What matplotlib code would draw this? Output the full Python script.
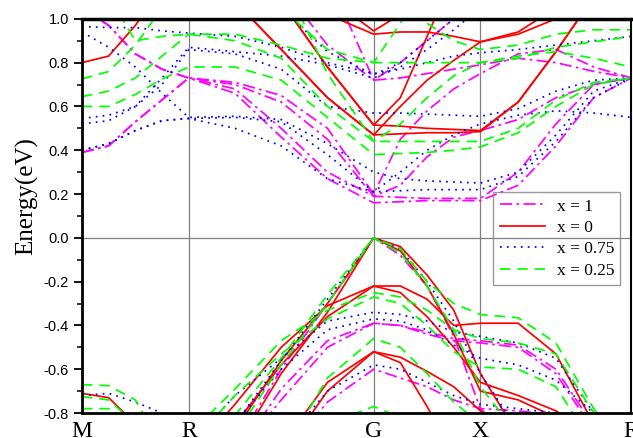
import numpy as np
import matplotlib
matplotlib.use("Agg")
import matplotlib.pyplot as plt

# high-symmetry path M-R-G-X-R (positions in 2pi/a units)
k_labels = ["M", "R", "G", "X", "R"]
k_nodes = [0.0, 0.5, 1.366, 1.866, 2.573]

# every band is sampled at 17 points: node, 3 inner points, node, ...
# energies in eV, read from the figure (values beyond the window just run off)
x1_cond = [
    [0.39, 0.42, 0.53, 0.63, 0.73, 0.71, 0.65, 0.50, 0.20, 0.45, 0.58, 0.68, 0.75, 0.84, 0.86, 0.78, 0.73],
    [1.05, 0.97, 0.84, 0.77, 0.73, 0.66, 0.46, 0.27, 0.16, 0.165, 0.17, 0.17, 0.17, 0.24, 0.42, 0.64, 0.73],
    [0.39, 0.42, 0.53, 0.63, 0.73, 0.70, 0.62, 0.45, 0.19, 0.24, 0.37, 0.46, 0.49, 0.54, 0.64, 0.70, 0.73],
    [1.05, 0.97, 0.84, 0.77, 0.73, 0.68, 0.50, 0.30, 0.19, 0.185, 0.18, 0.18, 0.18, 0.30, 0.52, 0.70, 0.73],
    [1.20, 1.20, 1.20, 1.20, 1.20, 1.20, 1.15, 0.88, 0.72, 0.73, 0.75, 0.77, 0.79, 0.82, 0.80, 0.76, 0.73],
    [1.20, 1.20, 1.20, 1.20, 1.20, 1.20, 1.20, 1.20, 0.72, 0.80, 0.90, 1.00, 1.10, 1.20, 1.20, 1.20, 1.20],
]
x1_val = [
    [-1.0, -1.0, -1.0, -1.0, -1.0, -0.95, -0.60, -0.30, 0.00, -0.08, -0.22, -0.45, -0.78, -0.95, -1.0, -1.0, -1.0],
    [-1.0, -1.0, -1.0, -1.0, -1.0, -1.0, -0.69, -0.47, -0.39, -0.40, -0.44, -0.47, -0.48, -0.50, -0.62, -0.88, -1.0],
    [-1.0, -1.0, -1.0, -1.0, -1.0, -1.0, -0.74, -0.50, -0.39, -0.40, -0.43, -0.46, -0.47, -0.49, -0.60, -0.86, -1.0],
    [-1.0, -1.0, -1.0, -1.0, -1.0, -1.0, -1.0, -0.75, -0.60, -0.64, -0.68, -0.74, -0.78, -0.79, -0.81, -1.0, -1.0],
]

x0_cond = [
    [0.80, 0.83, 0.97, 1.15, 1.30, 1.30, 1.30, 1.30, 1.30, 1.30, 1.30, 1.30, 1.30, 1.30, 1.30, 1.30, 1.30],
    [1.30, 1.30, 1.30, 1.30, 1.30, 1.08, 0.86, 0.64, 0.47, 0.475, 0.48, 0.48, 0.485, 0.62, 0.85, 1.10, 1.30],
    [1.30, 1.30, 1.30, 1.30, 1.30, 1.30, 1.08, 0.78, 0.515, 0.51, 0.50, 0.495, 0.49, 0.62, 0.85, 1.10, 1.30],
    [1.30, 1.30, 1.30, 1.30, 1.30, 1.30, 1.08, 0.78, 0.515, 0.64, 0.92, 1.20, 1.30, 1.30, 1.30, 1.30, 1.30],
    [1.30, 1.30, 1.30, 1.30, 1.30, 1.08, 0.86, 0.64, 0.47, 0.60, 0.72, 0.81, 0.895, 0.94, 1.05, 1.20, 1.30],
    [1.30, 1.30, 1.30, 1.30, 1.30, 1.30, 1.30, 1.02, 0.93, 0.94, 0.94, 0.92, 0.895, 0.93, 1.00, 1.20, 1.30],
    [1.30, 1.30, 1.30, 1.30, 1.30, 1.30, 1.30, 1.10, 0.945, 1.02, 1.20, 1.30, 1.30, 1.30, 1.30, 1.30, 1.30],
]
x0_val = [
    [-0.71, -0.73, -0.85, -1.0, -1.0, -1.0, -1.0, -1.0, -1.0, -1.0, -1.0, -1.0, -1.0, -1.0, -1.0, -1.0, -1.0],
    [-1.0, -1.0, -1.0, -1.0, -1.0, -0.88, -0.56, -0.30, 0.00, -0.04, -0.17, -0.33, -0.62, -0.90, -1.0, -1.0, -1.0],
    [-1.0, -1.0, -1.0, -1.0, -1.0, -0.97, -0.62, -0.34, 0.00, -0.06, -0.22, -0.44, -0.70, -0.74, -0.82, -1.0, -1.0],
    [-1.0, -1.0, -1.0, -1.0, -1.0, -0.76, -0.50, -0.31, -0.22, -0.22, -0.28, -0.40, -0.39, -0.39, -0.53, -0.85, -1.0],
    [-1.0, -1.0, -1.0, -1.0, -1.0, -0.85, -0.58, -0.36, -0.22, -0.25, -0.36, -0.50, -0.66, -0.72, -0.79, -0.90, -1.0],
    [-1.0, -1.0, -1.0, -1.0, -1.0, -1.0, -0.95, -0.66, -0.52, -0.57, -0.77, -1.0, -1.0, -1.0, -1.0, -1.0, -1.0],
    [-1.0, -1.0, -1.0, -1.0, -1.0, -1.0, -1.0, -0.70, -0.52, -0.545, -0.61, -0.68, -0.79, -0.90, -1.0, -1.0, -1.0],
]

x075_cond = [
    [0.965, 0.96, 0.96, 0.945, 0.935, 0.92, 0.87, 0.80, 0.75, 0.77, 0.80, 0.83, 0.845, 0.86, 0.88, 0.90, 0.92],
    [0.94, 0.87, 0.78, 0.66, 0.55, 0.555, 0.54, 0.43, 0.30, 0.27, 0.26, 0.255, 0.25, 0.30, 0.47, 0.67, 0.73],
    [0.545, 0.56, 0.60, 0.70, 0.86, 0.84, 0.77, 0.60, 0.57, 0.57, 0.565, 0.56, 0.555, 0.59, 0.67, 0.72, 0.73],
    [0.52, 0.535, 0.60, 0.73, 0.87, 0.85, 0.83, 0.79, 0.73, 0.78, 0.86, 0.95, 1.05, 1.20, 1.20, 1.20, 1.20],
    [0.40, 0.43, 0.49, 0.535, 0.545, 0.55, 0.53, 0.38, 0.21, 0.215, 0.22, 0.22, 0.22, 0.28, 0.44, 0.64, 0.73],
    [0.40, 0.43, 0.49, 0.535, 0.545, 0.50, 0.42, 0.27, 0.21, 0.30, 0.40, 0.47, 0.52, 0.56, 0.58, 0.57, 0.55],
    [1.20, 1.20, 1.20, 1.20, 1.20, 1.20, 1.05, 0.85, 0.745, 0.80, 0.90, 1.00, 1.10, 1.20, 1.20, 1.20, 1.20],
]
x075_val = [
    [-0.72, -0.71, -0.75, -0.80, -1.0, -1.0, -1.0, -1.0, -1.0, -1.0, -1.0, -1.0, -1.0, -1.0, -1.0, -1.0, -1.0],
    [-1.0, -1.0, -1.0, -1.0, -1.0, -0.85, -0.56, -0.28, 0.00, -0.05, -0.20, -0.38, -0.62, -0.88, -1.0, -1.0, -1.0],
    [-1.0, -1.0, -1.0, -1.0, -0.95, -0.72, -0.55, -0.38, -0.34, -0.35, -0.38, -0.43, -0.45, -0.48, -0.55, -0.80, -0.85],
    [-1.0, -1.0, -1.0, -1.0, -1.0, -0.85, -0.60, -0.42, -0.37, -0.38, -0.42, -0.49, -0.55, -0.58, -0.65, -0.80, -1.0],
    [-1.0, -1.0, -1.0, -1.0, -1.0, -1.0, -0.95, -0.70, -0.58, -0.60, -0.66, -0.72, -0.76, -0.78, -0.80, -1.0, -1.0],
]

x025_cond = [
    [0.725, 0.76, 0.88, 1.05, 1.20, 1.20, 1.20, 1.20, 1.20, 1.20, 1.20, 1.20, 1.20, 1.20, 1.20, 1.20, 1.20],
    [0.645, 0.67, 0.73, 0.83, 0.93, 0.93, 0.88, 0.82, 0.80, 0.80, 0.80, 0.80, 0.80, 0.82, 0.87, 0.895, 0.92],
    [0.60, 0.60, 0.655, 0.725, 0.78, 0.78, 0.72, 0.55, 0.38, 0.385, 0.39, 0.40, 0.415, 0.48, 0.60, 0.70, 0.73],
    [1.20, 1.10, 0.90, 0.92, 0.93, 0.90, 0.82, 0.60, 0.44, 0.44, 0.44, 0.44, 0.44, 0.50, 0.63, 0.71, 0.73],
    [1.20, 1.20, 1.20, 1.20, 1.20, 1.20, 1.05, 0.86, 0.80, 0.98, 1.20, 1.20, 1.20, 1.20, 1.20, 1.20, 1.20],
    [1.20, 1.20, 1.20, 1.20, 1.20, 1.20, 1.20, 0.75, 0.44, 0.52, 0.64, 0.74, 0.80, 0.83, 0.85, 0.82, 0.78],
    [1.20, 1.20, 1.20, 1.20, 1.20, 1.20, 1.20, 1.20, 1.20, 1.10, 0.98, 0.90, 0.86, 0.88, 0.93, 0.95, 0.95],
]
x025_val = [
    [-0.67, -0.675, -0.74, -0.95, -1.0, -1.0, -1.0, -1.0, -1.0, -1.0, -1.0, -1.0, -1.0, -1.0, -1.0, -1.0, -1.0],
    [-0.725, -0.74, -0.85, -1.0, -1.0, -1.0, -1.0, -1.0, -1.0, -1.0, -1.0, -1.0, -1.0, -1.0, -1.0, -1.0, -1.0],
    [-0.78, -0.78, -0.86, -1.0, -1.0, -1.0, -1.0, -1.0, -1.0, -1.0, -1.0, -1.0, -1.0, -1.0, -1.0, -1.0, -1.0],
    [-1.0, -1.0, -1.0, -1.0, -1.0, -0.81, -0.55, -0.26, 0.00, -0.07, -0.22, -0.42, -0.68, -0.90, -1.0, -1.0, -1.0],
    [-1.0, -1.0, -1.0, -1.0, -1.0, -0.90, -0.58, -0.30, 0.00, -0.05, -0.20, -0.30, -0.35, -0.365, -0.48, -0.78, -1.0],
    [-1.0, -1.0, -1.0, -1.0, -0.90, -0.69, -0.47, -0.33, -0.25, -0.27, -0.33, -0.42, -0.46, -0.48, -0.53, -0.80, -1.0],
    [-1.0, -1.0, -1.0, -1.0, -0.95, -0.72, -0.53, -0.37, -0.27, -0.30, -0.40, -0.52, -0.59, -0.60, -0.68, -0.95, -1.0],
    [-1.0, -1.0, -1.0, -1.0, -1.0, -1.0, -1.0, -0.64, -0.46, -0.50, -0.62, -0.75, -0.85, -1.0, -1.0, -1.0, -1.0],
    [-1.0, -1.0, -1.0, -1.0, -1.0, -1.0, -1.0, -0.85, -0.77, -0.82, -0.90, -1.0, -1.0, -1.0, -1.0, -1.0, -1.0],
]

y_ticks = [-0.8, -0.6, -0.4, -0.2, 0.0, 0.2, 0.4, 0.6, 0.8, 1.0]

series = [
    ("x = 1", x1_cond + x1_val, "#ff00ff", (0, (7, 2.5, 1.5, 2.5))),
    ("x = 0", x0_cond + x0_val, "#ff0000", "-"),
    ("x = 0.75", x075_cond + x075_val, "#0000ff", (0, (1, 3))),
    ("x = 0.25", x025_cond + x025_val, "#00ff00", (0, (6, 4))),
]

# k grid: 4 intervals per segment
k = [k_nodes[0]]
for a, b in zip(k_nodes[:-1], k_nodes[1:]):
    k += list(np.linspace(a, b, 5)[1:])
k = np.array(k)

serif = "Liberation Serif"
plt.rcParams["font.family"] = "Liberation Sans"

fig = plt.figure(figsize=(6.33, 4.38), dpi=100)
ax = fig.add_axes([0.1295, 0.057, 0.868, 0.9])

for kn in k_nodes[1:-1]:
    ax.axvline(kn, color="#808080", lw=0.9, zorder=1)
ax.axhline(0, color="#808080", lw=0.9, zorder=1)

for label, bands, color, ls in series:
    for i, band in enumerate(bands):
        ax.plot(k, band, color=color, linestyle=ls, lw=1.25, zorder=2,
                label=label if i == 0 else None)

ax.set_xlim(k_nodes[0], k_nodes[-1])
ax.set_ylim(-0.8, 1.0)
ax.set_xticks(k_nodes)
ax.set_xticklabels(k_labels, family=serif, fontsize=17)
ax.tick_params(axis="x", length=0, pad=6)
ax.set_yticks(y_ticks)
ax.set_yticklabels([f"{v:.1f}" for v in y_ticks], fontsize=10.5)
ax.set_yticks(np.arange(-0.7, 1.0, 0.2), minor=True)
ax.tick_params(axis="y", which="major", direction="out", length=6, width=1.3)
ax.tick_params(axis="y", which="minor", direction="out", length=3.5, width=1.1)

ax.spines["top"].set_linewidth(2.5)
ax.spines["bottom"].set_linewidth(2.0)
ax.spines["left"].set_linewidth(2.0)
ax.spines["right"].set_linewidth(1.5)

ax.set_ylabel("Energy(eV)", family=serif, fontsize=18)
ax.yaxis.set_label_coords(-0.08, 0.55)

leg = ax.legend(loc="upper right", bbox_to_anchor=(0.98, 0.56), borderaxespad=0,
                prop={"family": serif, "size": 12.5}, frameon=True, fancybox=False,
                handlelength=2.6, handletextpad=0.7, labelspacing=0.3, borderpad=0.35)
leg.get_frame().set_edgecolor("#808080")
leg.get_frame().set_facecolor("none")
leg.get_frame().set_linewidth(1.0)

fig.savefig("out.png", dpi=100)
